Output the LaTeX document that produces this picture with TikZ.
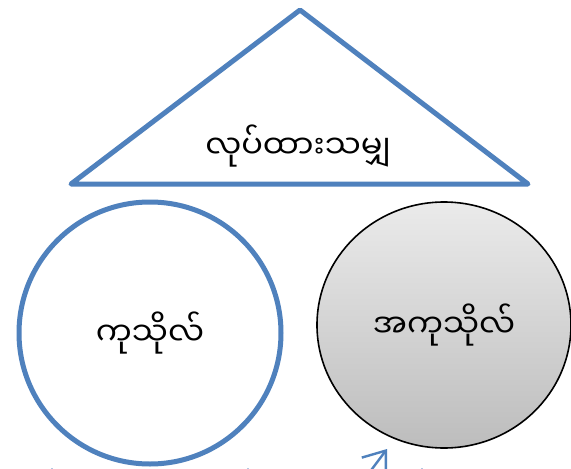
\documentclass[tikz,border=0pt]{standalone}
\usepackage{fontspec}
\newfontfamily\mmfont[Script=Myanmar]{Noto Sans Myanmar UI}
\usetikzlibrary{arrows.meta,shapes.geometric}
\definecolor{ofblue}{HTML}{4F81BD}
\tikzset{
  frame/.style={draw=ofblue, line width=5pt, line join=round},
  lab/.style={text=black, font=\mmfont\fontsize{32}{36}\selectfont},
  flow/.style={-{Straight Barb[length=20pt,width=30pt]}, ofblue, line width=2.4pt},
}
\begin{document}
\begin{tikzpicture}[x=1pt,y=-1pt]
  \useasboundingbox (0,0) rectangle (571,469);
  \clip (0,0) rectangle (571,469);
  \fill[white] (0,0) rectangle (571,469);
  % triangle on top
  \coordinate (apex) at (300,10);
  \coordinate (left) at (71,184);
  \coordinate (right) at (528,184);
  \draw[frame, fill=white] (apex) -- (left) -- (right) -- cycle;
  \node[lab] (deeds) at (298,146) {လုပ်ထားသမျှ};

  % the two circles
  \node[circle, frame, fill=white, minimum size=262pt, inner sep=0pt, lab] (merit) at (150,333) {ကုသိုလ်};
  \node[ellipse, draw=black, line width=1.6pt, top color=gray!16, bottom color=gray!52,
        minimum width=254pt, minimum height=246pt, inner sep=0pt, lab] (demerit) at (444,325) {အကုသိုလ်};

  % arrows coming in from below
  \coordinate (tail) at (357,489);
  \coordinate (head) at (387,449);
  \draw[flow] (tail) -- (head);
  \foreach \x in {52,248,422}{
    \coordinate (tip\x) at (\x,468);
    \draw[flow, line width=1.5pt] (\x,500) -- (tip\x);
  }
\end{tikzpicture}
\end{document}
